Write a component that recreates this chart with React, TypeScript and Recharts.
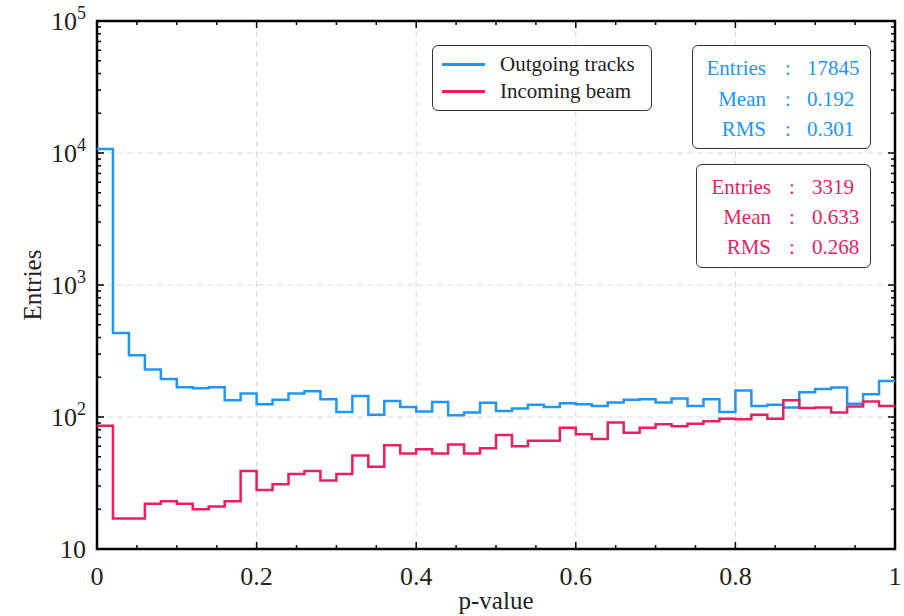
import React from "react";
import {
  CartesianGrid,
  ComposedChart,
  Line,
  ReferenceArea,
  XAxis,
  YAxis,
} from "recharts";

// p-value histograms, 50 bins of width 0.02 over [0, 1]
const binEdges = Array.from({ length: 51 }, (_, i) => +(i * 0.02).toFixed(2));

const outgoing = [
  10700, 432, 293, 229, 194, 168, 165, 168, 134, 151, 125, 135, 151, 157, 136,
  109, 144, 104, 132, 119, 110, 130, 103, 108, 128, 111, 116, 124, 119, 127,
  125, 121, 129, 135, 136, 129, 138, 121, 136, 109, 159, 121, 124, 118, 154,
  163, 167, 126, 149, 187,
];

const incoming = [
  86, 17, 17, 22, 23, 22, 20, 21, 23, 39, 28, 31, 37, 39, 33, 37, 51, 42, 61,
  53, 57, 53, 62, 53, 58, 73, 60, 66, 66, 83, 74, 68, 91, 76, 83, 88, 85, 89,
  93, 97, 96, 104, 97, 134, 117, 118, 108, 120, 131, 121,
];

const xMajor = [0, 0.2, 0.4, 0.6, 0.8, 1];
const xLabels = ["0", "0.2", "0.4", "0.6", "0.8", "1"];
const xTicks = Array.from({ length: 21 }, (_, i) => +(i * 0.05).toFixed(2));

const yMajor = [10, 100, 1000, 10000, 100000];
const yTicks: number[] = [];
for (let d = 10; d < 100000; d *= 10) {
  for (let m = 1; m < 10; m++) yTicks.push(m * d);
}
yTicks.push(100000);

const series = [
  { key: "out", name: "Outgoing tracks", color: "#2196F3" },
  { key: "inc", name: "Incoming beam", color: "#E91E63" },
];

const outStats = [
  ["Entries", "17845"],
  ["Mean", "0.192"],
  ["RMS", "0.301"],
];
const incStats = [
  ["Entries", "3319"],
  ["Mean", "0.633"],
  ["RMS", "0.268"],
];

// stepAfter needs a closing point at the right edge
const rows = binEdges.map((p, i) => ({
  p,
  out: outgoing[Math.min(i, outgoing.length - 1)],
  inc: incoming[Math.min(i, incoming.length - 1)],
}));

const FONT = "'Liberation Serif', 'Times New Roman', serif";
const MAJOR = 7;
const MINOR = 4;

const isMajorX = (v: number) => xMajor.some((m) => Math.abs(m - v) < 1e-6);
const isMajorY = (v: number) => yMajor.includes(v);

const BottomTick = (props: any) => {
  const { x, y, payload } = props;
  const v = payload.value;
  const major = isMajorX(v);
  const idx = xMajor.findIndex((m) => Math.abs(m - v) < 1e-6);
  return (
    <g>
      <line x1={x} x2={x} y1={y} y2={y - (major ? MAJOR : MINOR)} stroke="#000" strokeWidth={1.5} />
      {major && (
        <text x={x} y={y + 36} textAnchor="middle" fontFamily={FONT} fontSize={26} fill="#222">
          {xLabels[idx]}
        </text>
      )}
    </g>
  );
};

const TopTick = (props: any) => {
  const { x, y, payload } = props;
  const len = isMajorX(payload.value) ? MAJOR : MINOR;
  return <line x1={x} x2={x} y1={y} y2={y + len} stroke="#000" strokeWidth={1.5} />;
};

const LeftTick = (props: any) => {
  const { x, y, payload } = props;
  const v = payload.value;
  const major = isMajorY(v);
  const exp = Math.round(Math.log10(v));
  return (
    <g>
      <line x1={x} x2={x + (major ? MAJOR : MINOR)} y1={y} y2={y} stroke="#000" strokeWidth={1.5} />
      {major && (
        <text x={x - 11} y={y + 9} textAnchor="end" fontFamily={FONT} fontSize={26} fill="#222">
          10
          {exp > 1 && (
            <tspan dy={-11} fontSize={18}>
              {exp}
            </tspan>
          )}
        </text>
      )}
    </g>
  );
};

const RightTick = (props: any) => {
  const { x, y, payload } = props;
  const len = isMajorY(payload.value) ? MAJOR : MINOR;
  return <line x1={x} x2={x - len} y1={y} y2={y} stroke="#000" strokeWidth={1.5} />;
};

const XTitle = (props: any) => {
  const { x, y, width } = props.viewBox;
  return (
    <text x={x + width / 2} y={y + 60} textAnchor="middle" fontFamily={FONT} fontSize={25} fill="#222">
      p-value
    </text>
  );
};

const YTitle = (props: any) => {
  const { x, y, height } = props.viewBox;
  const cx = x + 25;
  const cy = y + height / 2;
  return (
    <text
      x={cx}
      y={cy}
      transform={`rotate(-90 ${cx} ${cy})`}
      textAnchor="middle"
      dominantBaseline="central"
      fontFamily={FONT}
      fontSize={25}
      fill="#222"
    >
      Entries
    </text>
  );
};

const boxStyle: React.CSSProperties = {
  position: "absolute",
  boxSizing: "border-box",
  border: "1.5px solid #333",
  borderRadius: 6,
  background: "#fff",
  fontFamily: FONT,
  fontSize: 21,
};

const StatsBox = ({
  left,
  top,
  width,
  color,
  stats,
  labelRight,
  colonX,
  valueLeft,
  rowTops,
}: {
  left: number;
  top: number;
  width: number;
  color: string;
  stats: string[][];
  labelRight: number;
  colonX: number;
  valueLeft: number;
  rowTops: number[];
}) => (
  <div style={{ ...boxStyle, left, top, width, height: 104, color }}>
    {stats.map(([label, value], i) => (
      <React.Fragment key={label}>
        <span style={{ position: "absolute", right: width - labelRight, top: rowTops[i] - 12, lineHeight: "24px" }}>
          {label}
        </span>
        <span style={{ position: "absolute", left: colonX - 3, top: rowTops[i] - 12, lineHeight: "24px" }}>:</span>
        <span style={{ position: "absolute", left: valueLeft, top: rowTops[i] - 12, lineHeight: "24px" }}>
          {value}
        </span>
      </React.Fragment>
    ))}
  </div>
);

export default function App() {
  return (
    <div style={{ position: "absolute", left: 0, top: 0, width: 904, height: 616, background: "#fff" }}>
      <ComposedChart width={904} height={616} data={rows} margin={{ top: 20, right: 8, bottom: 0, left: 7 }}>
        <CartesianGrid
          stroke="#dcdcdc"
          strokeWidth={1.2}
          strokeDasharray="6 4"
          horizontalValues={[100, 1000, 10000]}
          verticalValues={[0.2, 0.4, 0.6, 0.8]}
        />
        <XAxis
          dataKey="p"
          type="number"
          domain={[0, 1]}
          allowDataOverflow
          ticks={xTicks}
          interval={0}
          height={67}
          tickSize={0}
          tickMargin={0}
          axisLine={false}
          tickLine={false}
          tick={(p: any) => <BottomTick {...p} />}
          label={<XTitle />}
        />
        <XAxis
          xAxisId="top"
          orientation="top"
          dataKey="p"
          type="number"
          domain={[0, 1]}
          allowDataOverflow
          ticks={xTicks}
          interval={0}
          height={1}
          tickSize={0}
          tickMargin={0}
          axisLine={false}
          tickLine={false}
          tick={(p: any) => <TopTick {...p} />}
        />
        <YAxis
          scale="log"
          domain={[10, 100000]}
          allowDataOverflow
          ticks={yTicks}
          interval={0}
          width={90}
          tickSize={0}
          tickMargin={0}
          axisLine={false}
          tickLine={false}
          tick={(p: any) => <LeftTick {...p} />}
          label={<YTitle />}
        />
        <YAxis
          yAxisId="right"
          orientation="right"
          scale="log"
          domain={[10, 100000]}
          allowDataOverflow
          ticks={yTicks}
          interval={0}
          width={1}
          tickSize={0}
          tickMargin={0}
          axisLine={false}
          tickLine={false}
          tick={(p: any) => <RightTick {...p} />}
        />
        {series.map((s) => (
          <Line
            key={s.key}
            dataKey={s.key}
            name={s.name}
            type="stepAfter"
            stroke={s.color}
            strokeWidth={2.5}
            dot={false}
            activeDot={false}
            isAnimationActive={false}
          />
        ))}
        <ReferenceArea x1={0} x2={1} y1={10} y2={100000} fill="none" stroke="#000" strokeWidth={2.5} />
      </ComposedChart>

      <div style={{ ...boxStyle, left: 432, top: 45, width: 220, height: 66, color: "#222" }}>
        {series.map((s, i) => (
          <React.Fragment key={s.key}>
            <div
              style={{
                position: "absolute",
                left: 9,
                top: 17 + i * 27,
                width: 43,
                height: 2.5,
                background: s.color,
              }}
            />
            <span style={{ position: "absolute", left: 67, top: 6 + i * 27, lineHeight: "24px", whiteSpace: "nowrap" }}>
              {s.name}
            </span>
          </React.Fragment>
        ))}
      </div>

      <StatsBox
        left={692}
        top={45}
        width={179}
        color={series[0].color}
        stats={outStats}
        labelRight={75}
        colonX={95}
        valueLeft={114}
        rowTops={[22, 53, 83]}
      />
      <StatsBox
        left={696}
        top={164}
        width={175}
        color={series[1].color}
        stats={incStats}
        labelRight={76}
        colonX={95}
        valueLeft={115}
        rowTops={[22, 52, 82]}
      />
    </div>
  );
}
